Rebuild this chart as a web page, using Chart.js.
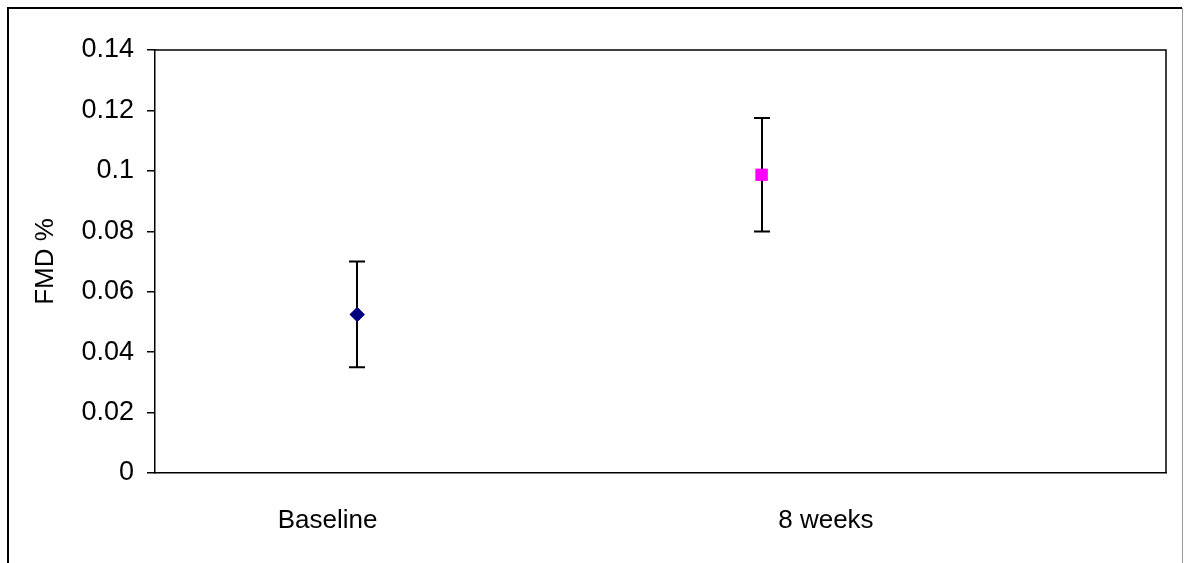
<!DOCTYPE html>
<html>
<head>
<meta charset="utf-8">
<script src="https://cdn.jsdelivr.net/npm/chart.js@4/dist/chart.umd.min.js"></script>
<style>
  html, body { margin: 0; padding: 0; background: #fff; }
  #wrap { width: 1184px; height: 563px; }
</style>
</head>
<body>
<div id="wrap"><canvas id="myChart" width="1184" height="563"></canvas></div>
<script>
// data
var categories = ['Baseline', '8 weeks'];
var fmdMean = [0.0525, 0.0987];
var fmdErr = [0.0175, 0.0188];
var pointColors = ['#000080', '#ff00ff'];
var pointStyles = ['rectRot', 'rect'];
var yTicks = [0, 0.02, 0.04, 0.06, 0.08, 0.1, 0.12, 0.14];

// where the category labels sit on the x scale (not under the points in the original)
var labelAt = [0.9266, 2.159];

var FONT = '"Liberation Sans", Arial, sans-serif';

// outer frame + plot box + error bars
var extras = {
    id: 'extras',
    beforeDraw: function(chart) {
        var c = chart.ctx;
        c.save();
        c.fillStyle = '#fff';
        c.fillRect(0, 0, chart.width, chart.height);
        c.strokeStyle = '#000';
        c.lineWidth = 2;
        c.beginPath();
        c.moveTo(8, 570);
        c.lineTo(8, 8);
        c.lineTo(1182, 8);
        c.stroke();
        c.strokeStyle = '#999';
        c.lineWidth = 1;
        c.beginPath();
        c.moveTo(1182.5, 8);
        c.lineTo(1182.5, 570);
        c.stroke();
        c.restore();
    },
    afterDatasetsDraw: function(chart) {
        var c = chart.ctx;
        var a = chart.chartArea;
        var xs = chart.scales.x, ys = chart.scales.y;
        c.save();
        c.strokeStyle = '#000';
        c.lineWidth = 1.5;
        c.beginPath();
        c.moveTo(a.left, a.top);
        c.lineTo(a.right, a.top);
        c.lineTo(a.right, a.bottom);
        c.stroke();
        c.lineWidth = 2;
        for (var i = 0; i < fmdMean.length; i++) {
            var px = Math.round(xs.getPixelForValue(i + 1));
            var top = ys.getPixelForValue(fmdMean[i] + fmdErr[i]);
            var bot = ys.getPixelForValue(fmdMean[i] - fmdErr[i]);
            c.beginPath();
            c.moveTo(px, top); c.lineTo(px, bot);
            c.moveTo(px - 8, top); c.lineTo(px + 8, top);
            c.moveTo(px - 8, bot); c.lineTo(px + 8, bot);
            c.stroke();
        }
        c.restore();
        // redraw markers on top of the bars
        chart.getDatasetMeta(0).data.forEach(function(el) { el.draw(c, a); });
    }
};

var ctx = document.getElementById('myChart').getContext('2d');
var fmdChart = new Chart(ctx, {
    type: 'scatter',
    data: {
        datasets: [{
            label: 'FMD %',
            data: fmdMean.map(function(v, i) { return { x: i + 1, y: v }; }),
            backgroundColor: pointColors,
            borderColor: pointColors,
            pointStyle: pointStyles,
            pointRadius: [7.5, 8.5],
            borderWidth: 0
        }]
    },
    options: {
        responsive: false,
        animation: false,
        events: [],
        layout: { padding: { top: 50, right: 18, left: 0, bottom: 0 } },
        plugins: {
            legend: { display: false },
            tooltip: { enabled: false }
        },
        scales: {
            x: {
                type: 'linear',
                min: 0.5,
                max: 3,
                afterBuildTicks: function(scale) {
                    scale.ticks = labelAt.map(function(v) { return { value: v }; });
                },
                afterFit: function(scale) { scale.height = 90; },
                grid: { display: false },
                border: { color: '#000', width: 1.5 },
                ticks: {
                    autoSkip: false,
                    maxRotation: 0,
                    padding: 24,
                    color: '#000',
                    font: { family: FONT, size: 26 },
                    callback: function(v, i) { return categories[i]; }
                }
            },
            y: {
                min: 0,
                max: 0.14,
                afterBuildTicks: function(scale) {
                    scale.ticks = yTicks.map(function(v) { return { value: v }; });
                },
                afterFit: function(scale) { scale.width = 155; },
                grid: { drawOnChartArea: false, tickLength: 8, color: '#000', lineWidth: 1.5 },
                border: { color: '#000', width: 1.5 },
                ticks: {
                    padding: 13,
                    color: '#000',
                    font: { family: FONT, size: 27 },
                    callback: function(v) { return String(+v.toFixed(2)); }
                },
                title: {
                    display: true,
                    text: 'FMD %',
                    color: '#000',
                    font: { family: FONT, size: 26 },
                    padding: { top: 30, bottom: 0 }
                }
            }
        }
    },
    plugins: [extras]
});
</script>
</body>
</html>
